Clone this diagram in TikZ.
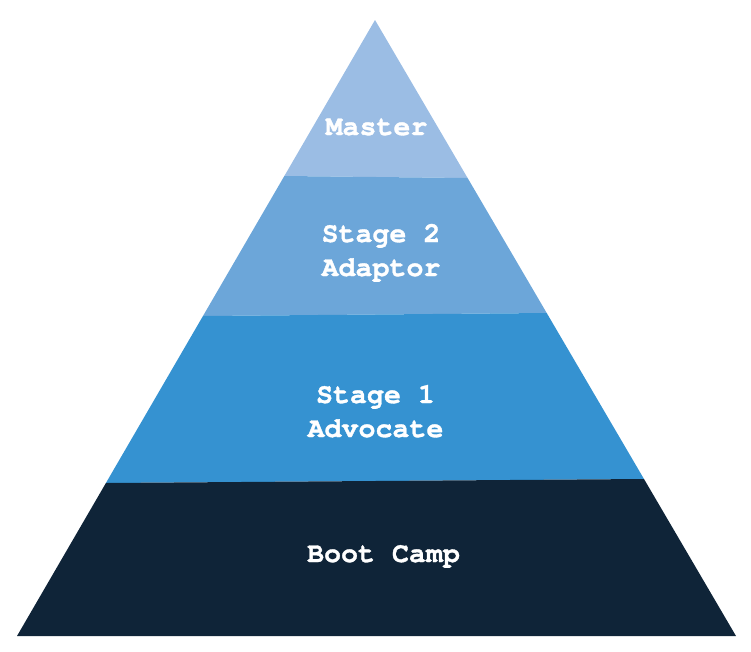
\documentclass[tikz,border=0pt]{standalone}
\usepackage{fontspec}
\newfontfamily\stagefont[BoldFeatures={FakeBold=1.2}]{TeX Gyre Cursor}
\usetikzlibrary{calc}
\definecolor{masterblue}{HTML}{9BBDE4}
\definecolor{adaptorblue}{HTML}{6CA6D9}
\definecolor{advocateblue}{HTML}{3592D1}
\definecolor{bootnavy}{HTML}{0F2438}
\tikzset{
  level/.style={font=\stagefont\bfseries\fontsize{28.3}{34}\selectfont, text=white, align=center, anchor=base, inner sep=0pt}
}

\begin{document}
\begin{tikzpicture}[x=1pt, y=-1pt]
            \useasboundingbox (0,0) rectangle (751,651);
            \def\H{616}
            \coordinate (Apex) at (375,20);
            \coordinate (BL) at (17,636);
            \coordinate (BR) at (736,636);
            
            % band edges on the two sides
            \coordinate (L1) at ($(Apex)!{156/\H}!(BL)$);
            \coordinate (R1) at ($(Apex)!{158/\H}!(BR)$);
            \coordinate (L2) at ($(Apex)!{296/\H}!(BL)$);
            \coordinate (R2) at ($(Apex)!{293/\H}!(BR)$);
            \coordinate (L3) at ($(Apex)!{463/\H}!(BL)$);
            \coordinate (R3) at ($(Apex)!{459/\H}!(BR)$);
            
            \fill [masterblue] (Apex) -- (L1) -- (R1) -- cycle;
            \fill [adaptorblue] (L1) -- (L2) -- (R2) -- (R1) -- cycle;
            \fill [advocateblue] (L2) -- (L3) -- (R3) -- (R2) -- cycle;
            \fill [bootnavy] (L3) -- (BL) -- (BR) -- (R3) -- cycle;
            
            % base anchor sits on the last line
            \node (Master) at (376.5,135) [level] {Master};
            \node (Adaptor) at (381,276) [level] {Stage 2\\Adaptor};
            \node (Advocate) at (375.5,437) [level] {Stage 1\\Advocate};
            \node (BootCamp) at (383.5,562) [level] {Boot Camp};
        \end{tikzpicture}
\end{document}
